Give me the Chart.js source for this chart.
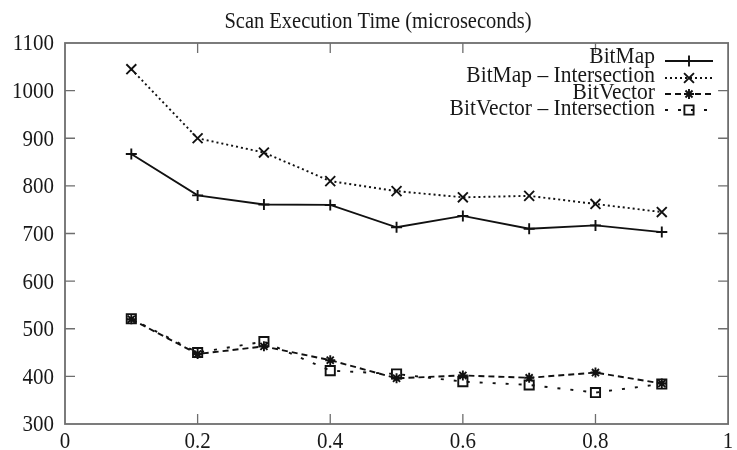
<!DOCTYPE html>
<html><head><meta charset="utf-8">
<script src="https://cdn.jsdelivr.net/npm/chart.js@4.4.0/dist/chart.umd.min.js"></script>
<style>html,body{margin:0;padding:0;background:#fff}#wrap{width:737px;height:450px}</style>
</head><body><div id="wrap"><canvas id="c" width="737" height="450"></canvas></div>
<script>
const xValues = [0.1,0.2,0.3,0.4,0.5,0.6,0.7,0.8,0.9];
const bitMap = [867,780,761,760,713,737,710,717,703];
const bitMapInter = [1045,900,870,810,789,776,779,762,745];
const bitVector = [520,447,463,434,396,402,397,408,385];
const bitVectorInter = [521,450,473,412,405,389,382,366,384];
const seriesNames = ['BitMap','BitMap \u2013 Intersection','BitVector','BitVector \u2013 Intersection'];
const xTicks = [0,0.2,0.4,0.6,0.8,1];
const yTicks = [300,400,500,600,700,800,900,1000,1100];
const titleText = 'Scan Execution Time (microseconds)';

const FONT = '"Liberation Serif", "DejaVu Serif", serif';
const INK = '#111';
const TEXT = '#181818';
const FRAME = '#6e6e6e';
const SY = 1.08;
const LW = 1.9;

function pts(arr){ return xValues.map((x,i)=>({x:x,y:arr[i]})); }

const styles = [
  {dash:[], point:'cross', r:5.5},
  {dash:[2,3], point:'crossRot', r:7},
  {dash:[6,4], point:'star', r:5},
  {dash:[3,10], point:'rect', r:6.5}
];
const datasetsArr = [bitMap,bitMapInter,bitVector,bitVectorInter].map((d,i)=>({
  label: seriesNames[i],
  data: pts(d),
  borderColor: INK,
  backgroundColor: 'rgba(0,0,0,0)',
  borderWidth: LW,
  borderDash: styles[i].dash,
  pointStyle: styles[i].point,
  pointRadius: styles[i].r,
  pointBorderColor: INK,
  pointBackgroundColor: 'rgba(0,0,0,0)',
  pointBorderWidth: LW,
  tension: 0,
  order: 4-i
}));

function txt(ctx, s, x, y, size, align, baseline){
  ctx.save();
  ctx.translate(x, y);
  ctx.scale(1, SY);
  ctx.font = size + 'px ' + FONT;
  ctx.fillStyle = TEXT;
  ctx.textAlign = align; ctx.textBaseline = baseline;
  ctx.fillText(s, 0, 0);
  ctx.restore();
}

const decor = {
  id:'decor',
  afterDatasetsDraw(chart){
    const ctx = chart.ctx, a = chart.chartArea, xs = chart.scales.x, ys = chart.scales.y;
    ctx.save();
    ctx.strokeStyle = FRAME; ctx.lineWidth = 1.8; ctx.setLineDash([]);
    ctx.strokeRect(a.left, a.top, a.right-a.left, a.bottom-a.top);
    ctx.lineWidth = 1.3;
    const L = 10;
    ctx.beginPath();
    xTicks.forEach(v=>{ const px = xs.getPixelForValue(v);
      if (v>0 && v<1){ ctx.moveTo(px,a.bottom); ctx.lineTo(px,a.bottom-L); ctx.moveTo(px,a.top); ctx.lineTo(px,a.top+L);} });
    yTicks.forEach(v=>{ const py = ys.getPixelForValue(v);
      if (v>300 && v<1100){ ctx.moveTo(a.left,py); ctx.lineTo(a.left+L,py); ctx.moveTo(a.right,py); ctx.lineTo(a.right-L,py);} });
    ctx.stroke();
    xTicks.forEach(v=> txt(ctx, String(v), xs.getPixelForValue(v), a.bottom + 18.5, 21, 'center', 'middle'));
    yTicks.forEach(v=> txt(ctx, String(v), a.left - 11, ys.getPixelForValue(v) + 1.5, 21, 'right', 'middle'));
    txt(ctx, titleText, 378, 28, 20.5, 'center', 'alphabetic');
    const lineY = [61, 78, 94, 110];
    const baseY = [62.5, 81.5, 98.5, 115];
    chart.data.datasets.forEach((ds,i)=>{
      txt(ctx, ds.label, 655, baseY[i], 21.5, 'right', 'alphabetic');
      const y = lineY[i];
      ctx.strokeStyle = INK; ctx.lineWidth = LW;
      ctx.setLineDash(ds.borderDash);
      ctx.beginPath(); ctx.moveTo(665,y); ctx.lineTo(713,y); ctx.stroke();
      ctx.setLineDash([]);
      ctx.fillStyle = 'rgba(0,0,0,0)';
      Chart.helpers.drawPoint(ctx,{pointStyle:ds.pointStyle, radius:ds.pointRadius, borderWidth:LW, rotation:0}, 689, y);
    });
    ctx.restore();
  }
};

new Chart(document.getElementById('c'), {
  type:'line',
  data:{ datasets: datasetsArr },
  options:{
    responsive:false, animation:false, devicePixelRatio:1,
    layout:{ padding:{ top:43, right:3, bottom:0, left:0 } },
    plugins:{ legend:{display:false}, title:{display:false}, tooltip:{enabled:false} },
    scales:{
      x:{ type:'linear', min:0, max:1,
        afterBuildTicks(s){ s.ticks = xTicks.map(v=>({value:v})); },
        afterFit(s){ s.height = 26; s.paddingLeft = 0; s.paddingRight = 0; },
        grid:{ display:false, drawTicks:false }, border:{display:false},
        ticks:{ display:false } },
      y:{ type:'linear', min:300, max:1100,
        afterBuildTicks(s){ s.ticks = yTicks.map(v=>({value:v})); },
        afterFit(s){ s.width = 65; s.paddingTop = 0; s.paddingBottom = 0; },
        grid:{ display:false, drawTicks:false }, border:{display:false},
        ticks:{ display:false } }
    }
  },
  plugins:[decor]
});
</script></body></html>
